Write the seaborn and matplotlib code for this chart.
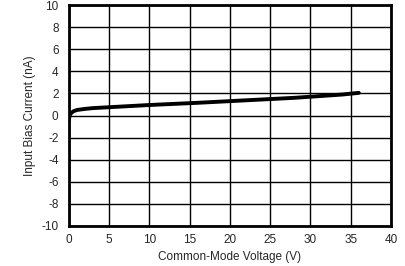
import matplotlib
matplotlib.use("Agg")
import matplotlib.pyplot as plt
import seaborn as sns
import pandas as pd

voltage = [0.0, 0.05, 0.15, 0.3, 0.6, 1.0, 2.0, 3.0, 5.0, 7.5, 10, 13, 16, 20, 24, 28, 32, 34, 36]
current = [-0.4, -0.1, 0.1, 0.25, 0.4, 0.5, 0.6, 0.67, 0.75, 0.85, 0.95, 1.05, 1.15, 1.3, 1.45, 1.6, 1.8, 1.9, 2.05]
xticks = [0, 5, 10, 15, 20, 25, 30, 35, 40]
yticks = [-10, -8, -6, -4, -2, 0, 2, 4, 6, 8, 10]

df = pd.DataFrame({"v": voltage, "i": current})

sns.set_style("white")
plt.rcParams['font.family'] = ['Liberation Sans', 'DejaVu Sans']

fig = plt.figure(figsize=(4.06, 2.66), dpi=100)
ax = fig.add_axes([69/406, 1 - 226/266, (391-69)/406, (226-5)/266])
sns.lineplot(data=df, x="v", y="i", ax=ax, color="black", linewidth=2.8)
ax.set_xlim(0, 40)
ax.set_ylim(-10, 10)
ax.set_xticks(xticks)
ax.set_yticks(yticks)
ax.set_xticklabels([str(t) for t in xticks], fontsize=8.5)
ax.set_yticklabels([str(t) for t in yticks], fontsize=8.5)
ax.grid(True, color="black", linewidth=1)
ax.tick_params(axis="x", length=0, pad=6)
ax.tick_params(axis="y", length=0, pad=7.5)
for s in ax.spines.values():
    s.set_linewidth(2)
    s.set_color("black")
ax.set_xlabel("Common-Mode Voltage (V)", fontsize=8.5, labelpad=3.5)
ax.set_ylabel("Input Bias Current (nA)", fontsize=8.5, labelpad=4)
fig.savefig("out.png", dpi=100)
